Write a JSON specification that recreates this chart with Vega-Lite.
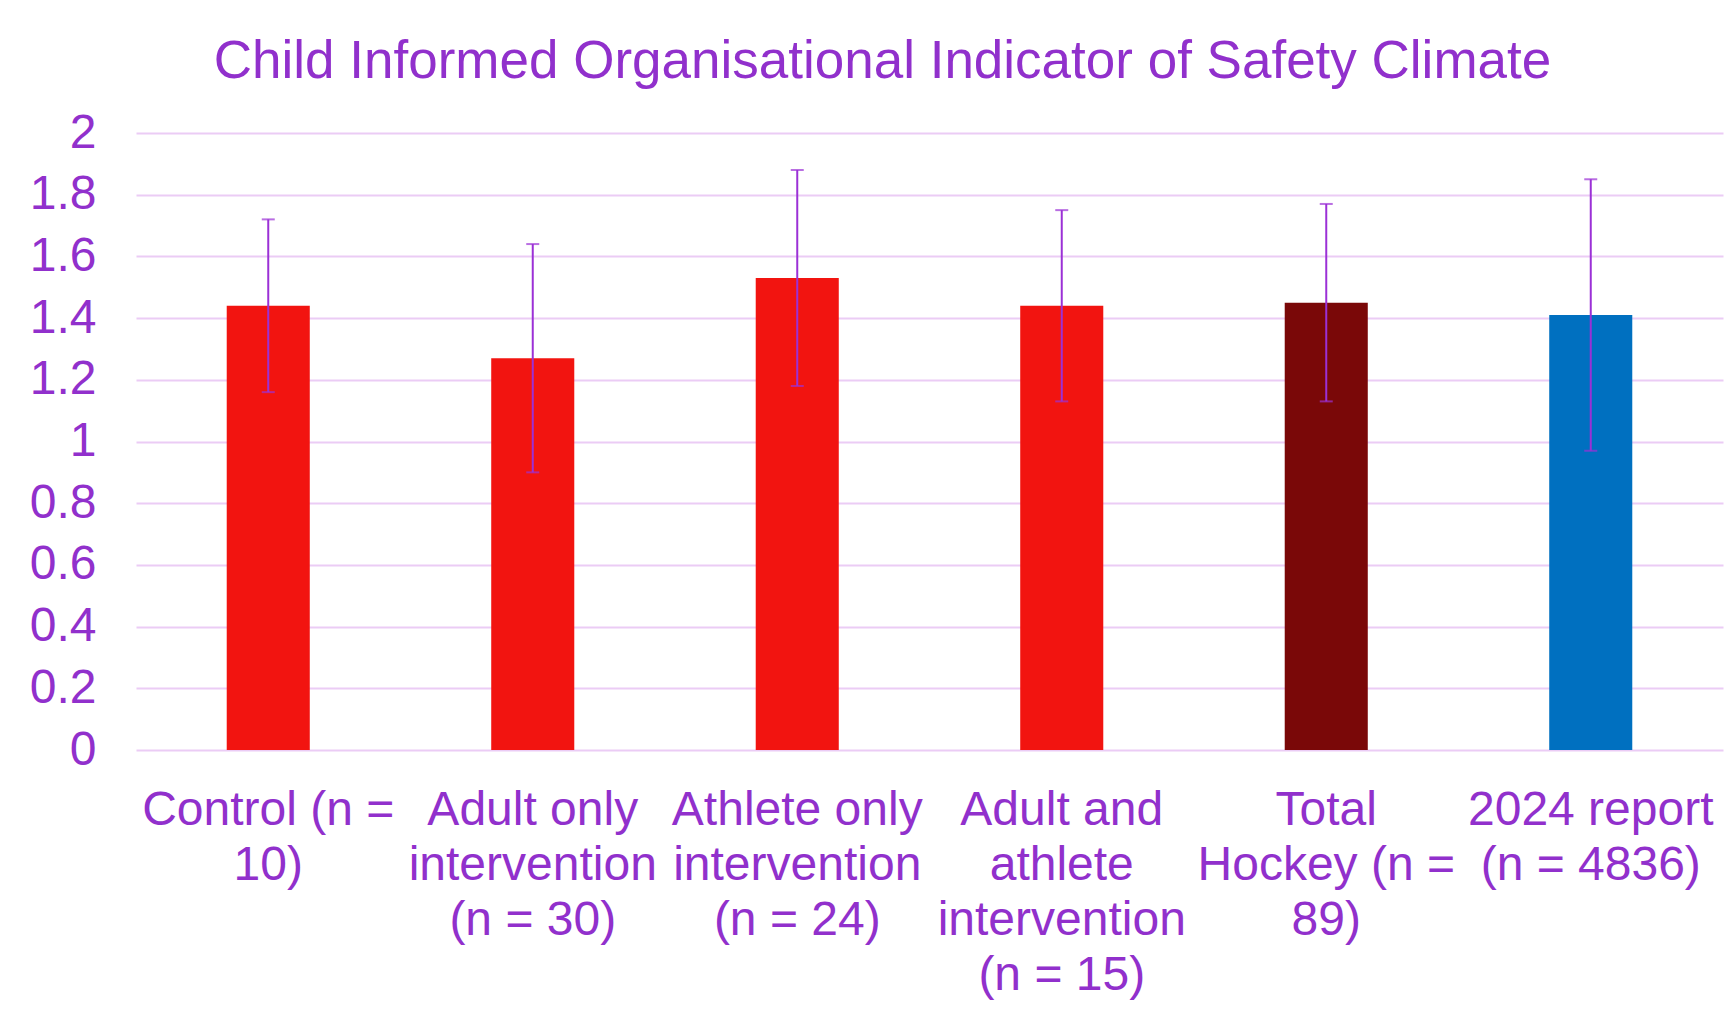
{
  "$schema": "https://vega.github.io/schema/vega-lite/v6.json",
  "width": 1587,
  "height": 617,
  "autosize": {"type": "none"},
  "padding": {"left": 136, "top": 133, "right": 11, "bottom": 260},
  "background": "white",
  "title": {
    "text": "Child Informed Organisational Indicator of Safety Climate",
    "font": "Liberation Sans",
    "fontSize": 53,
    "fontWeight": "normal",
    "color": "#9130CC",
    "anchor": "middle",
    "frame": "group",
    "dx": -47,
    "dy": 52,
    "baseline": "alphabetic",
    "offset": 30
  },
  "data": {
    "values": [
      {"group": "Control (n = 10)", "mean": 1.44, "lo": 1.16, "hi": 1.72, "series": "Hockey group"},
      {"group": "Adult only intervention (n = 30)", "mean": 1.27, "lo": 0.90, "hi": 1.64, "series": "Hockey group"},
      {"group": "Athlete only intervention (n = 24)", "mean": 1.53, "lo": 1.18, "hi": 1.88, "series": "Hockey group"},
      {"group": "Adult and athlete intervention (n = 15)", "mean": 1.44, "lo": 1.13, "hi": 1.75, "series": "Hockey group"},
      {"group": "Total Hockey (n = 89)", "mean": 1.45, "lo": 1.13, "hi": 1.77, "series": "Total"},
      {"group": "2024 report (n = 4836)", "mean": 1.41, "lo": 0.97, "hi": 1.85, "series": "Report"}
    ]
  },
  "encoding": {
    "x": {
      "field": "group",
      "type": "nominal",
      "sort": null,
      "title": null,
      "scale": {"paddingInner": 0, "paddingOuter": 0},
      "axis": {
        "domain": false,
        "ticks": false,
        "tickSize": 0,
        "labelAngle": 0,
        "labelFont": "Liberation Sans",
        "labelFontSize": 48,
        "labelColor": "#9130CC",
        "labelPadding": 36,
        "labelLineHeight": 55,
        "labelLimit": 0,
        "labelBaseline": "top",
        "labelExpr": "datum.value == 'Control (n = 10)' ? ['Control (n =', '10)'] : datum.value == 'Adult only intervention (n = 30)' ? ['Adult only', 'intervention', '(n = 30)'] : datum.value == 'Athlete only intervention (n = 24)' ? ['Athlete only', 'intervention', '(n = 24)'] : datum.value == 'Adult and athlete intervention (n = 15)' ? ['Adult and', 'athlete', 'intervention', '(n = 15)'] : datum.value == 'Total Hockey (n = 89)' ? ['Total', 'Hockey (n =', '89)'] : ['2024 report', '(n = 4836)']"
      }
    }
  },
  "layer": [
    {
      "mark": {"type": "bar", "width": {"band": 0.314}},
      "encoding": {
        "y": {
          "field": "mean",
          "type": "quantitative",
          "title": null,
          "scale": {"domain": [0, 2], "nice": false, "zero": true},
          "axis": {
            "values": [0, 0.2, 0.4, 0.6, 0.8, 1, 1.2, 1.4, 1.6, 1.8, 2],
            "format": "~g",
            "domain": false,
            "ticks": false,
            "tickSize": 0,
            "grid": true,
            "gridColor": "#EBCCF5",
            "gridWidth": 2,
            "labelFont": "Liberation Sans",
            "labelFontSize": 48,
            "labelColor": "#9130CC",
            "labelPadding": 40
          }
        },
        "color": {
          "field": "series",
          "type": "nominal",
          "legend": null,
          "scale": {"domain": ["Hockey group", "Total", "Report"], "range": ["#F21410", "#7A0808", "#0070C0"]}
        }
      }
    },
    {
      "mark": {"type": "rule", "color": "#9B30D6", "strokeWidth": 2},
      "encoding": {
        "y": {"field": "lo", "type": "quantitative"},
        "y2": {"field": "hi"}
      }
    },
    {
      "mark": {"type": "tick", "color": "#9B30D6", "size": 13, "thickness": 2},
      "encoding": {"y": {"field": "lo", "type": "quantitative"}}
    },
    {
      "mark": {"type": "tick", "color": "#9B30D6", "size": 13, "thickness": 2},
      "encoding": {"y": {"field": "hi", "type": "quantitative"}}
    }
  ],
  "config": {"view": {"stroke": null}}
}
